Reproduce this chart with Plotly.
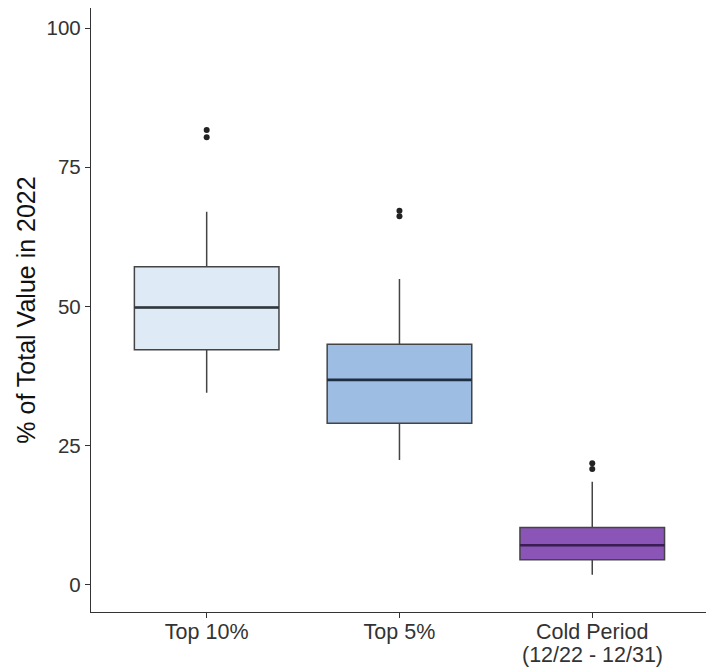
import plotly.graph_objects as go

categories = ["Top 10%", "Top 5%", "Cold Period<br>(12/22 - 12/31)"]
tick_first_lines = ["Top 10%", "Top 5%", "Cold Period"]
tick_second_line = "(12/22 - 12/31)"
q1 = [42.2, 29.0, 4.5]
median = [49.8, 36.8, 7.1]
q3 = [57.1, 43.2, 10.3]
lower_whisker = [34.5, 22.4, 1.8]
upper_whisker = [67.0, 54.9, 18.5]
outliers = [[81.7, 80.4], [67.2, 66.2], [21.8, 20.8]]
fill_colors = ["#deebf7", "#9dbde2", "#8a55b6"]
median_colors = ["#2f363c", "#1f2d42", "#3a1d52"]

y_ticks = [0, 25, 50, 75, 100]

fig = go.Figure()
for i, cat in enumerate(categories):
    fig.add_trace(go.Box(
        x=[cat], q1=[q1[i]], median=[median[i]], q3=[q3[i]],
        lowerfence=[lower_whisker[i]], upperfence=[upper_whisker[i]],
        fillcolor=fill_colors[i],
        line=dict(color="#444444", width=1.5),
        width=0.75, whiskerwidth=0, boxpoints=False,
        showlegend=False, hoverinfo="skip",
    ))
    # thicker median line
    fig.add_trace(go.Box(
        x=[cat], q1=[median[i]], median=[median[i]], q3=[median[i]],
        lowerfence=[median[i]], upperfence=[median[i]],
        fillcolor="rgba(0,0,0,0)",
        line=dict(color=median_colors[i], width=2.6),
        width=0.75, whiskerwidth=0, boxpoints=False,
        showlegend=False, hoverinfo="skip",
    ))
    fig.add_trace(go.Scatter(
        x=[cat] * len(outliers[i]), y=outliers[i], mode="markers",
        marker=dict(color="#222222", size=6),
        showlegend=False, hoverinfo="skip",
    ))

fig.add_annotation(
    x=categories[2], xref="x", y=0, yref="paper", yanchor="top",
    text=tick_second_line, showarrow=False, yshift=-29,
    font=dict(size=21.5, color="#333333"),
)

font_family = "Liberation Sans, Arial, sans-serif"
fig.update_layout(
    width=706, height=668,
    margin=dict(l=91, r=0, t=8, b=56),
    plot_bgcolor="white", paper_bgcolor="white",
    font=dict(family=font_family, size=20, color="#333333"),
    boxmode="overlay",
    xaxis=dict(
        type="category", categoryorder="array", categoryarray=categories,
        tickvals=categories, ticktext=tick_first_lines,
        range=[-0.6, 2.59], showline=True, linecolor="#333333", linewidth=1.3,
        ticks="outside", ticklen=5, tickcolor="#333333", showgrid=False,
        tickfont=dict(size=21.5, color="#333333"), zeroline=False,
        automargin=False, ticklabelstandoff=-5,
    ),
    yaxis=dict(
        range=[-4.9, 103.6], tickvals=y_ticks, showline=True,
        linecolor="#333333", linewidth=1.3, ticks="outside", ticklen=5,
        tickcolor="#333333", showgrid=False, zeroline=False,
        tickfont=dict(size=20.5, color="#333333"), automargin=False,
        title=dict(text="% of Total Value in 2022", font=dict(size=25, color="#111111"), standoff=3),
    ),
)

fig.write_html(
    "out.html",
    config={"displayModeBar": False},
    post_script="document.body.style.margin='0';document.body.style.overflow='hidden';",
)
